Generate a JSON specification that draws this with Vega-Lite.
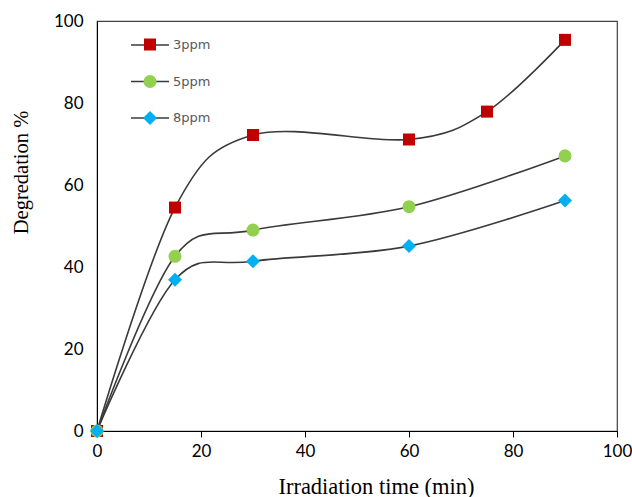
{
  "$schema": "https://vega.github.io/schema/vega-lite/v6.json",
  "width": 520,
  "height": 410,
  "autosize": {"type": "none"},
  "padding": {"left": 97, "top": 21, "right": 15, "bottom": 66},
  "background": "white",
  "config": {
    "view": {"stroke": "#404040", "strokeWidth": 1.2},
    "axis": {"labelFont": "Lato", "labelFontSize": 17, "labelColor": "#000", "titleFont": "Liberation Serif", "titleFontWeight": "normal", "titleFontSize": 20.5, "titleColor": "#000", "domainColor": "#000", "tickColor": "#000", "grid": false}
  },
  "data": {"values": [
    {"time": 0, "deg": 0, "series": "3ppm"},
    {"time": 15, "deg": 54.5, "series": "3ppm"},
    {"time": 30, "deg": 72.2, "series": "3ppm"},
    {"time": 60, "deg": 71.1, "series": "3ppm"},
    {"time": 75, "deg": 77.9, "series": "3ppm"},
    {"time": 90, "deg": 95.4, "series": "3ppm"},
    {"time": 0, "deg": 0, "series": "5ppm"},
    {"time": 15, "deg": 42.6, "series": "5ppm"},
    {"time": 30, "deg": 49, "series": "5ppm"},
    {"time": 60, "deg": 54.7, "series": "5ppm"},
    {"time": 90, "deg": 67.1, "series": "5ppm"},
    {"time": 0, "deg": 0, "series": "8ppm"},
    {"time": 15, "deg": 36.9, "series": "8ppm"},
    {"time": 30, "deg": 41.4, "series": "8ppm"},
    {"time": 60, "deg": 45.1, "series": "8ppm"},
    {"time": 90, "deg": 56.2, "series": "8ppm"}
  ]},
  "encoding": {
    "x": {"field": "time", "type": "quantitative", "scale": {"domain": [0, 100], "nice": false}, "axis": {"title": "Irradiation time (min)", "titleFontSize": 22.5, "values": [0, 20, 40, 60, 80, 100], "tickSize": 6, "labelPadding": 6, "titleX": 279, "titleY": 62, "titleBaseline": "alphabetic", "labelFlush": false}},
    "y": {"field": "deg", "type": "quantitative", "scale": {"domain": [0, 100], "nice": false}, "axis": {"title": "Degredation %", "values": [0, 20, 40, 60, 80, 100], "ticks": false, "labelPadding": 14, "titleY": 151, "titlePadding": 22, "labelFlush": false}}
  },
  "layer": [
    {
      "mark": {"type": "line", "interpolate": "cardinal", "strokeWidth": 1.6},
      "encoding": {
        "detail": {"field": "series"},
        "stroke": {"field": "series", "type": "nominal", "scale": {"range": ["#3a3a3a", "#3a3a3a", "#3a3a3a"]},
          "legend": {"orient": "none", "legendX": 33, "legendY": 4, "title": null, "padding": 0, "symbolType": "stroke", "symbolSize": 1444, "symbolStrokeWidth": 1.5, "labelFont": "DejaVu Sans", "labelFontSize": 13, "labelColor": "#595959", "labelOffset": 3, "rowPadding": 9.5}}
      }
    },
    {
      "mark": {"type": "point", "filled": true, "opacity": 1},
      "encoding": {
        "color": {"field": "series", "type": "nominal", "scale": {"domain": ["3ppm", "5ppm", "8ppm"], "range": ["#C00000", "#92D050", "#00B0F0"]},
          "legend": {"orient": "none", "legendX": 46, "legendY": 17, "title": null, "padding": 0, "symbolSize": 90, "symbolStrokeWidth": 0, "symbolOpacity": 1, "labelExpr": "''", "labelFontSize": 13, "rowPadding": 22.5}},
        "shape": {"field": "series", "type": "nominal", "scale": {"domain": ["3ppm", "5ppm", "8ppm"], "range": ["square", "circle", "diamond"]}},
        "size": {"field": "series", "type": "nominal", "scale": {"domain": ["3ppm", "5ppm", "8ppm"], "range": [144, 196, 185]}, "legend": null}
      }
    }
  ]
}
